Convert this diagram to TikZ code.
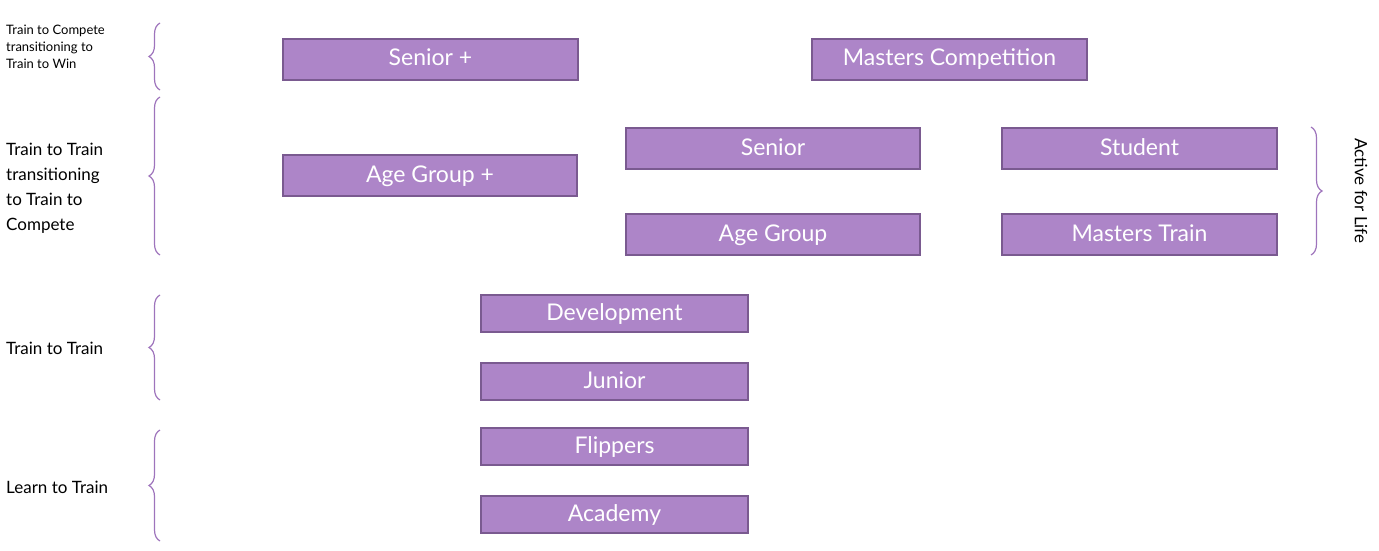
\documentclass[tikz,border=0pt]{standalone}
\usepackage{fontspec}
\setmainfont{Lato}
\usetikzlibrary{decorations.pathreplacing}
\definecolor{boxfill}{HTML}{AD85C8}
\definecolor{boxline}{HTML}{7A5A90}
\definecolor{bracec}{HTML}{9E74BC}
\begin{document}
\begin{tikzpicture}[x=1pt,y=-1pt,
  stagebox/.style={draw=boxline,line width=1.5pt,fill=boxfill,text=white,font=\fontsize{23}{26}\selectfont,inner sep=0pt,text height=16pt,text depth=3pt},
  lab/.style={anchor=west,align=left,font=\fontsize{17}{25}\selectfont,inner sep=0pt},
  brc/.style={draw=bracec,line width=1.2pt,decorate,decoration={brace,amplitude=11pt}}]
\useasboundingbox (0,0) rectangle (1379,551);
\newcommand{\bx}[6]{\node[stagebox,minimum width=#4-#2,minimum height=#5-#3] (#1) at ({(#2+#4)/2},{(#3+#5)/2}) {#6};}
\bx{seniorp}{283}{39}{578}{80}{Senior +}
\bx{mastc}{812}{39}{1087}{80}{Masters Competition}
\bx{senior}{626}{128}{920}{169}{Senior}
\bx{student}{1002}{128}{1277}{169}{Student}
\bx{agep}{283}{155}{577}{196}{Age Group +}
\bx{age}{626}{214}{920}{255}{Age Group}
\bx{mastt}{1002}{214}{1277}{255}{Masters Train}
\bx{dev}{481}{295}{748}{332}{Development}
\bx{jun}{481}{363}{748}{400}{Junior}
\bx{flip}{481}{428}{748}{465}{Flippers}
\bx{acad}{481}{496}{748}{533}{Academy}
\draw[brc] (160,90) -- (160,23);
\draw[brc] (160,255) -- (160,97);
\draw[brc] (160,400) -- (160,295);
\draw[brc] (160,541) -- (160,430);
\draw[brc] (1311,127) -- (1311,255);
\node[lab,font=\fontsize{13}{17}\selectfont] (l1) at (6,47) {Train to Compete\\transitioning to\\Train to Win};
\node[lab] (l2) at (6,188) {Train to Train\\transitioning\\to Train to\\Compete};
\node[lab] (l3) at (6,348) {Train to Train};
\node[lab] (l4) at (6,487) {Learn to Train};
\node[font=\fontsize{17}{20}\selectfont,rotate=-90,inner sep=0pt] (afl) at (1361,191) {Active for Life};
\end{tikzpicture}
\end{document}
